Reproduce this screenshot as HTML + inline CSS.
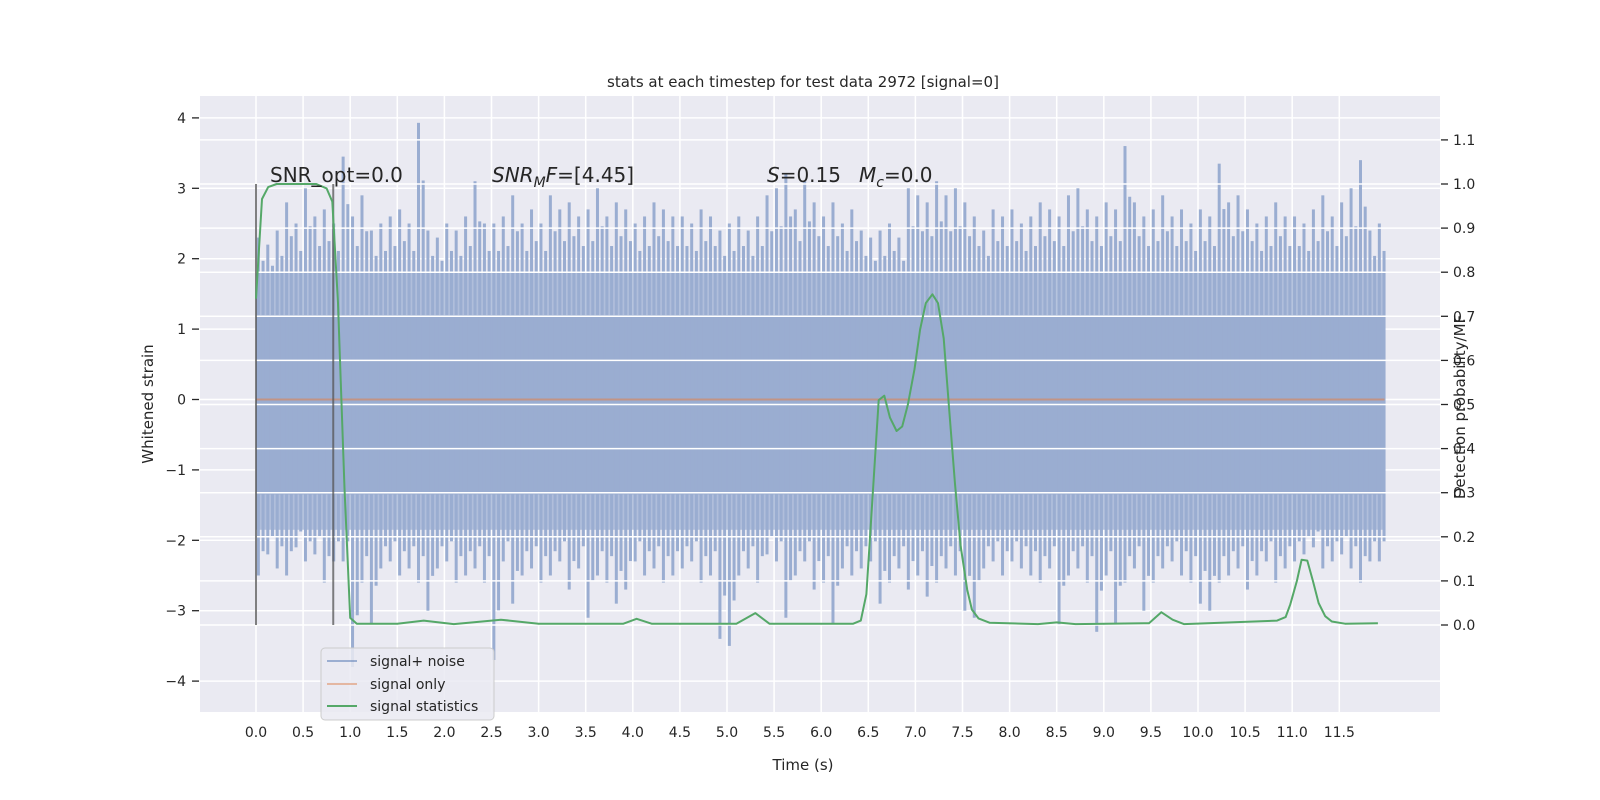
<!DOCTYPE html>
<html><head><meta charset="utf-8"><style>
html,body{margin:0;padding:0;background:#fff;}
svg{display:block;font-family:"DejaVu Sans","Liberation Sans",sans-serif;}
</style></head><body>
<svg id="chart" width="1600" height="800" viewBox="0 0 1600 800" xmlns="http://www.w3.org/2000/svg">
<rect x="0" y="0" width="1600" height="800" fill="#ffffff"/>
<rect x="200" y="96" width="1240" height="616" fill="#eaeaf2"/>
<g id="gridL"></g>
<g id="noise"></g>
<g id="gridR"></g>
<g id="series"></g>
<g id="axes"></g>
<text x="803" y="87" font-size="15" fill="#262626" text-anchor="middle">stats at each timestep for test data 2972 [signal=0]</text>
<text x="803" y="770" font-size="15" fill="#262626" text-anchor="middle">Time (s)</text>
<text x="0" y="0" font-size="15" fill="#262626" text-anchor="middle" transform="translate(153,404) rotate(-90)">Whitened strain</text>
<text x="0" y="0" font-size="15" fill="#262626" text-anchor="middle" transform="translate(1465,407) rotate(-90)">Detection probability/MF</text>
<text x="270" y="182" font-size="20" fill="#262626">SNR_opt=0.0</text>
<text x="492" y="182" font-size="20" fill="#262626"><tspan font-style="italic">SNR</tspan><tspan font-style="italic" font-size="14" dy="5">M</tspan><tspan font-style="italic" dy="-5">F</tspan>=[4.45]</text>
<text x="767" y="182" font-size="20" fill="#262626"><tspan font-style="italic">S</tspan>=0.15</text>
<text x="859" y="182" font-size="20" fill="#262626"><tspan font-style="italic">M</tspan><tspan font-style="italic" font-size="14" dy="5">c</tspan><tspan dy="-5">=0.0</tspan></text>
<g>
<rect x="321" y="648" width="173" height="72" rx="4" fill="#eaeaf2" fill-opacity="0.85" stroke="#cccccc"/>
<line x1="327" y1="661" x2="357" y2="661" stroke="#4c72b0" stroke-opacity="0.5" stroke-width="2"/>
<text x="370" y="666" font-size="14" fill="#262626">signal+ noise</text>
<line x1="327" y1="684" x2="357" y2="684" stroke="#dd8452" stroke-opacity="0.5" stroke-width="2"/>
<text x="370" y="689" font-size="14" fill="#262626">signal only</text>
<line x1="327" y1="706" x2="357" y2="706" stroke="#55a868" stroke-width="2"/>
<text x="370" y="711" font-size="14" fill="#262626">signal statistics</text>
</g>
</svg>
<script>
const xTicks = [0,0.5,1,1.5,2,2.5,3,3.5,4,4.5,5,5.5,6,6.5,7,7.5,8,8.5,9,9.5,10,10.5,11,11.5];
const yLeftTicks = [-4,-3,-2,-1,0,1,2,3,4];
const yRightTicks = [0,0.1,0.2,0.3,0.4,0.5,0.6,0.7,0.8,0.9,1.0,1.1];
const noiseUpper = [2.3,2.2,2.4,2.8,2.5,3.0,2.6,2.7,2.5,3.45, 2.6,2.9,2.4,2.5,2.6,2.7,2.5,3.93,2.4,2.3,
 2.5,2.4,2.6,3.1,2.5,2.5,2.6,2.9,2.5,2.7, 2.5,2.9,2.7,2.8,2.6,2.7,3.0,2.6,2.8,2.7,
 2.5,2.6,2.8,2.7,2.6,2.6,2.5,2.7,2.6,2.4, 2.5,2.6,2.4,2.6,2.9,3.0,3.2,2.7,3.1,2.8,
 2.6,2.8,2.5,2.7,2.4,2.3,2.4,2.5,2.3,3.0, 2.9,2.8,3.1,2.9,3.0,2.8,2.6,2.4,2.7,2.6,
 2.7,2.5,2.6,2.8,2.7,2.6,2.9,3.0,2.7,2.6, 2.8,2.7,3.6,2.8,2.6,2.7,2.9,2.6,2.7,2.5,
 2.7,2.6,3.35,2.8,2.9,2.7,2.5,2.6,2.8,2.6, 2.6,2.5,2.7,2.9,2.6,2.8,3.0,3.4,2.4,2.5];
const noiseLower = [-2.5,-2.2,-2.4,-2.5,-2.1,-2.3,-2.2,-2.6,-2.3,-2.3, -3.8,-2.6,-3.2,-2.4,-2.3,-2.5,-2.4,-2.6,-3.0,-2.4,
 -2.3,-2.6,-2.5,-2.4,-2.6,-3.7,-2.3,-2.9,-2.5,-2.4, -2.6,-2.5,-2.3,-2.7,-2.4,-3.1,-2.5,-2.6,-2.9,-2.7,
 -2.3,-2.5,-2.4,-2.6,-2.5,-2.4,-2.3,-2.6,-2.5,-3.4, -3.5,-2.5,-2.4,-2.6,-2.2,-2.3,-3.1,-2.5,-2.3,-2.7,
 -2.6,-3.2,-2.4,-2.5,-2.4,-2.3,-2.9,-2.6,-2.4,-2.7, -2.5,-2.8,-2.6,-2.4,-2.5,-3.0,-3.1,-2.4,-2.3,-2.5,
 -2.3,-2.4,-2.5,-2.6,-2.4,-3.2,-2.5,-2.4,-2.6,-3.3, -2.5,-3.2,-2.6,-2.4,-3.0,-2.6,-2.4,-2.3,-2.5,-2.6,
 -2.9,-3.0,-2.6,-2.5,-2.4,-2.7,-2.5,-2.3,-2.6,-2.4, -2.3,-2.2,-2.1,-2.4,-2.3,-2.2,-2.4,-2.6,-2.3,-2.3];
const statTimes = [0,0.064,0.13,0.22,0.4,0.64,0.75,0.81,0.87,0.94,1.0,1.07,1.5,1.78,2.1,2.6,3.0,3.9,4.04,4.2,5.1,5.3,5.45,6.34,6.42,6.48,6.61,6.67,6.73,6.8,6.86,6.92,6.99,7.05,7.11,7.18,7.24,7.3,7.36,7.42,7.48,7.55,7.6,7.67,7.79,8.3,8.5,8.7,9.48,9.61,9.73,9.85,10.84,10.93,10.98,11.05,11.1,11.16,11.22,11.28,11.35,11.42,11.56,11.91];
const statValues = [0.74,0.966,0.993,1.0,1.0,1.0,0.99,0.96,0.73,0.31,0.016,0.003,0.003,0.01,0.002,0.012,0.003,0.003,0.014,0.003,0.003,0.027,0.003,0.003,0.01,0.07,0.51,0.52,0.47,0.44,0.45,0.5,0.58,0.67,0.73,0.75,0.73,0.65,0.485,0.32,0.18,0.08,0.035,0.015,0.005,0.002,0.006,0.002,0.004,0.029,0.012,0.002,0.01,0.018,0.047,0.1,0.148,0.146,0.1,0.05,0.02,0.008,0.003,0.004];
const markerTimes = [0, 0.82];
const noiseStart = 0, noiseEnd = 11.98, binWidth = 0.1;

const NS = 'http://www.w3.org/2000/svg';
function xS(t){ return 256 + t*94.2; }
function yL(v){ return 399.5 - v*70.4; }
function yR(v){ return 625 - v*441; }
function mk(tag, attrs, parent){ const e = document.createElementNS(NS, tag); for (const k in attrs) e.setAttribute(k, attrs[k]); parent.appendChild(e); return e; }

const gridL = document.getElementById('gridL');
xTicks.forEach(t => {
  const l = mk('line', {x1:xS(t), x2:xS(t), y1:96, y2:712, stroke:'#fff', 'stroke-width':1.5}, gridL);
  
  
});
yLeftTicks.forEach(v => {
  const l = mk('line', {x1:200, x2:1440, y1:yL(v), y2:yL(v), stroke:'#fff', 'stroke-width':1.5}, gridL);
  
  
});

const noise = document.getElementById('noise');
const col = '#9aadd1';
const core = mk('rect', {x:xS(noiseStart), y:yL(1.2), width:xS(noiseEnd)-xS(noiseStart), height:yL(-1.35)-yL(1.2), fill:col}, noise);


const sh1 = mk('rect', {x:xS(noiseStart), y:yL(1.8), width:xS(noiseEnd)-xS(noiseStart), height:yL(1.2)-yL(1.8), fill:col, 'fill-opacity':0.72}, noise);


const sh2 = mk('rect', {x:xS(noiseStart), y:yL(-1.35), width:xS(noiseEnd)-xS(noiseStart), height:yL(-1.85)-yL(-1.35), fill:col, 'fill-opacity':0.72}, noise);


noiseUpper.forEach((u, i) => {
  const lo = noiseLower[i];
  const t = noiseStart + i*binWidth + binWidth*0.25;
  const b = mk('rect', {x:xS(t)-1.5, y:yL(u), width:3, height:yL(lo)-yL(u), fill:col}, noise);
  
  
  const t2 = t + binWidth*0.5;
  const u2 = 1.2 + (u-1.2)*0.7, l2 = -1.35 + (lo+1.35)*0.7;
  const b2 = mk('rect', {x:xS(t2)-1.5, y:yL(u2), width:3, height:yL(l2)-yL(u2), fill:col}, noise);
  
  
});
const sig = mk('line', {x1:xS(noiseStart), x2:xS(noiseEnd), y1:yL(0), y2:yL(0), stroke:'#dd8452', 'stroke-opacity':0.6, 'stroke-width':2}, noise);



const gridR = document.getElementById('gridR');
yRightTicks.forEach(v => {
  const l = mk('line', {x1:200, x2:1440, y1:yR(v), y2:yR(v), stroke:'#fff', 'stroke-width':1.5}, gridR);
  
  
});

const series = document.getElementById('series');
markerTimes.forEach(t => {
  const m = mk('line', {x1:xS(t), x2:xS(t), y1:yR(0), y2:yR(1.0), stroke:'#555', 'stroke-opacity':0.75, 'stroke-width':2}, series);
  
  
});
const pts = statTimes.map((t, i) => xS(t).toFixed(1) + ',' + yR(statValues[i]).toFixed(1)).join(' ');
const pl = mk('polyline', {points:pts, fill:'none', stroke:'#55a868', 'stroke-width':2, 'stroke-linejoin':'round'}, series);



const axes = document.getElementById('axes');
xTicks.forEach(t => {
  const tx = mk('text', {x:xS(t), y:737, 'font-size':14, fill:'#262626', 'text-anchor':'middle'}, axes);
  tx.textContent = t.toFixed(1);
  
  
});
yLeftTicks.forEach(v => {
  const tk = mk('line', {x1:192, x2:199, y1:yL(v), y2:yL(v), stroke:'#262626', 'stroke-width':1.3}, axes);
  
  
  const tx = mk('text', {x:186, y:yL(v)+5, 'font-size':14, fill:'#262626', 'text-anchor':'end'}, axes);
  tx.textContent = v < 0 ? '\u2212' + Math.abs(v) : String(v);
  
  
});
yRightTicks.forEach(v => {
  const tk = mk('line', {x1:1441, x2:1448, y1:yR(v), y2:yR(v), stroke:'#262626', 'stroke-width':1.3}, axes);
  
  
  const tx = mk('text', {x:1453, y:yR(v)+5, 'font-size':14, fill:'#262626'}, axes);
  tx.textContent = v.toFixed(1);
  
  
});
</script>
</body></html>
